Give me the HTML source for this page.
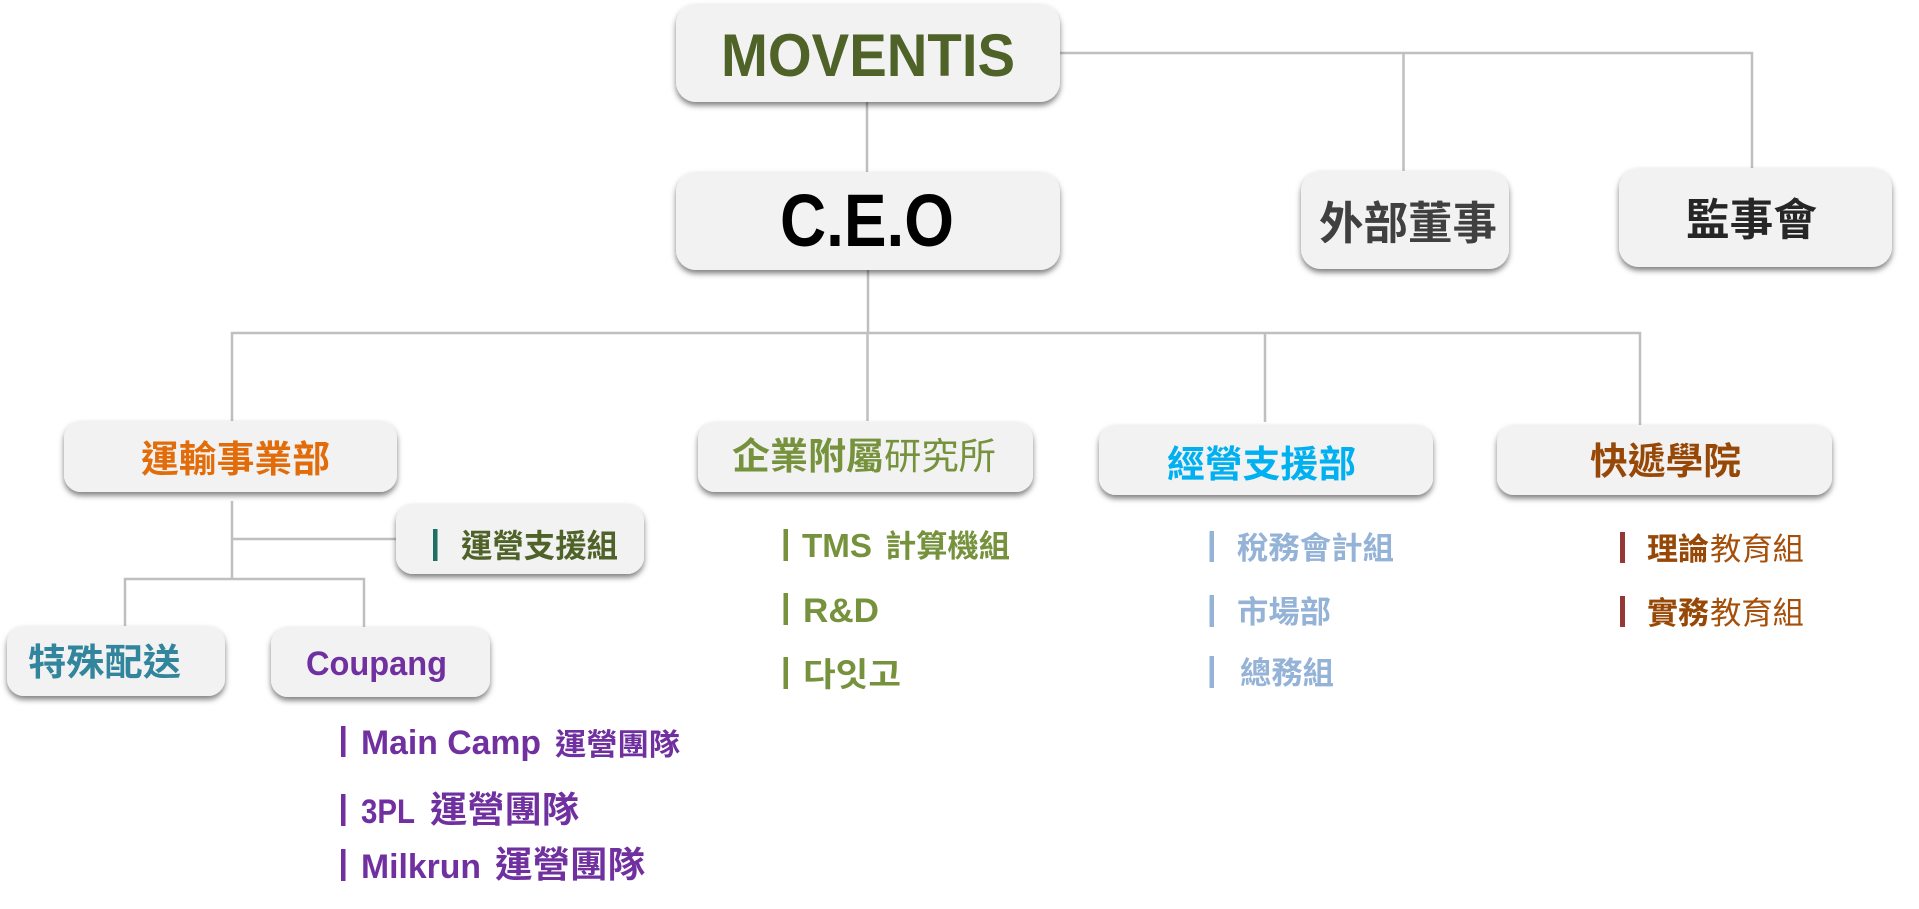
<!DOCTYPE html>
<html lang="zh-Hant"><head><meta charset="utf-8"><title>MOVENTIS</title>
<style>
html,body{margin:0;padding:0;background:#fff;width:1919px;height:909px;overflow:hidden}
svg{display:block}
text{font-family:"Liberation Sans","Noto Sans CJK TC","Noto Sans CJK KR",sans-serif;font-weight:700}
.r{font-weight:400}
.box{fill:#f2f2f2;filter:url(#s)}
.l{stroke:#bfbfbf;stroke-width:2.5;fill:none}
</style></head><body>
<svg width="1919" height="909" viewBox="0 0 1919 909" xmlns="http://www.w3.org/2000/svg">
<defs><filter id="s" x="-10%" y="-20%" width="120%" height="150%"><feDropShadow dx="0" dy="3.500" stdDeviation="2.800" flood-color="#000" flood-opacity=".5"/></filter></defs>

<path class="l" d="M1060 53H1752V168M1403.500 53V171M867 102V172M868 270V333M232 421V333H1640V425M867.500 333V421M1265 333V422M232 501V579M232 539H396M125 626V579H364V627"/>

<rect class="box" x="676" y="4" width="384" height="98" rx="20"/>
<rect class="box" x="676" y="172" width="384" height="98" rx="20"/>
<rect class="box" x="1301" y="171" width="208" height="98" rx="20"/>
<rect class="box" x="1619" y="168" width="273" height="99" rx="20"/>
<rect class="box" x="64" y="421" width="333" height="71" rx="17"/>
<rect class="box" x="396" y="504" width="248" height="70" rx="17"/>
<rect class="box" x="7" y="626" width="218" height="70" rx="17"/>
<rect class="box" x="271" y="627" width="219" height="70" rx="17"/>
<rect class="box" x="698" y="422" width="335" height="70" rx="17"/>
<rect class="box" x="1099" y="425" width="334" height="70" rx="17"/>
<rect class="box" x="1497" y="425" width="335" height="70" rx="17"/>

<text x="721" y="76" font-size="60" fill="#4f6228" textLength="294" lengthAdjust="spacingAndGlyphs">MOVENTIS</text>
<text x="780" y="246" font-size="74" fill="#000" textLength="174" lengthAdjust="spacingAndGlyphs">C.E.O</text>
<text x="1319" y="239" font-size="45" fill="#404040" textLength="178" lengthAdjust="spacingAndGlyphs">外部董事</text>
<text x="1686" y="235" font-size="44" fill="#262626" textLength="131" lengthAdjust="spacingAndGlyphs">監事會</text>

<text x="141" y="472" font-size="37" fill="#e36c0a" textLength="189" lengthAdjust="spacingAndGlyphs">運輸事業部</text>
<rect x="433" y="529" width="4.500" height="32" fill="#1f6f64"/>
<text x="461" y="557" font-size="32" fill="#4f6228" textLength="157" lengthAdjust="spacingAndGlyphs">運營支援組</text>
<text x="28" y="675" font-size="37" fill="#31859c" textLength="153" lengthAdjust="spacingAndGlyphs">特殊配送</text>
<text x="306" y="675" font-size="34" fill="#7030a0" textLength="141" lengthAdjust="spacingAndGlyphs">Coupang</text>

<g fill="#7030a0">
<rect x="341" y="726" width="4.500" height="31"/>
<text x="361" y="754" font-size="34" textLength="180" lengthAdjust="spacingAndGlyphs">Main Camp</text>
<text x="555" y="755" font-size="30" textLength="125" lengthAdjust="spacingAndGlyphs">運營團隊</text>
<rect x="341" y="794" width="4.500" height="32"/>
<text x="361" y="823" font-size="34" textLength="54" lengthAdjust="spacingAndGlyphs">3PL</text>
<text x="430" y="822" font-size="36" textLength="149" lengthAdjust="spacingAndGlyphs">運營團隊</text>
<rect x="341" y="849" width="4.500" height="32"/>
<text x="361" y="878" font-size="34" textLength="120" lengthAdjust="spacingAndGlyphs">Milkrun</text>
<text x="495" y="877" font-size="36" textLength="150" lengthAdjust="spacingAndGlyphs">運營團隊</text>
</g>

<g fill="#76923c">
<text x="732" y="469" font-size="37" textLength="152" lengthAdjust="spacingAndGlyphs">企業附屬</text>
<text class="r" x="884" y="469" font-size="37" textLength="112" lengthAdjust="spacingAndGlyphs">研究所</text>
<rect x="783.500" y="529" width="4.500" height="32"/>
<text x="802" y="557" font-size="33" textLength="70" lengthAdjust="spacingAndGlyphs">TMS</text>
<text x="885" y="557" font-size="31" textLength="125" lengthAdjust="spacingAndGlyphs">計算機組</text>
<rect x="783.500" y="593" width="4.500" height="32"/>
<text x="803" y="622" font-size="34" textLength="76" lengthAdjust="spacingAndGlyphs">R&amp;D</text>
<rect x="783.500" y="657" width="4.500" height="32"/>
<text x="803" y="686" font-size="33" textLength="98" lengthAdjust="spacingAndGlyphs">다잇고</text>
</g>

<text x="1167" y="477" font-size="37" fill="#00b0f0" textLength="189" lengthAdjust="spacingAndGlyphs">經營支援部</text>
<g fill="#95b3d7">
<rect x="1209.500" y="531" width="4.500" height="31"/>
<text x="1237" y="559" font-size="31" textLength="157" lengthAdjust="spacingAndGlyphs">稅務會計組</text>
<rect x="1209.500" y="595" width="4.500" height="32"/>
<text x="1237" y="623" font-size="31" textLength="94" lengthAdjust="spacingAndGlyphs">市場部</text>
<rect x="1209.500" y="656" width="4.500" height="32"/>
<text x="1240" y="684" font-size="31" textLength="94" lengthAdjust="spacingAndGlyphs">總務組</text>
</g>

<g fill="#a5500a">
<text x="1590" y="474" font-size="37" fill="#974806" textLength="151" lengthAdjust="spacingAndGlyphs">快遞學院</text>
<text x="1647" y="560" font-size="31" fill="#974806" textLength="62" lengthAdjust="spacingAndGlyphs">理論</text>
<text class="r" x="1710" y="560" font-size="31" textLength="94" lengthAdjust="spacingAndGlyphs">教育組</text>
<text x="1647" y="624" font-size="31" fill="#974806" textLength="62" lengthAdjust="spacingAndGlyphs">實務</text>
<text class="r" x="1710" y="624" font-size="31" textLength="94" lengthAdjust="spacingAndGlyphs">教育組</text>
</g>
<rect x="1620" y="532" width="5" height="31" fill="#953735"/>
<rect x="1620" y="596" width="5" height="31" fill="#953735"/>
</svg>
</body></html>
